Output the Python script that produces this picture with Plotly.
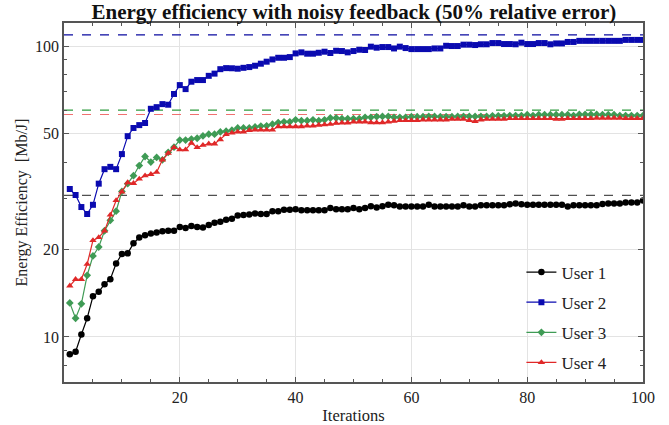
import plotly.graph_objects as go

iterations = list(range(1, 101))

user1 = [8.72, 8.89, 10.2, 11.6, 13.8, 14.3, 15.2, 15.8, 17.9, 19.3,
         19.4, 21.0, 22.0, 22.4, 22.7, 22.9, 23.1, 23.2, 23.2, 23.9,
         23.7, 24.1, 23.9, 23.8, 24.3, 24.7, 24.9, 25.3, 25.5, 26.2,
         26.3, 26.4, 26.6, 26.5, 26.5, 27.1, 27.1, 27.4, 27.4, 27.5,
         27.3, 27.3, 27.3, 27.3, 27.3, 27.8, 27.5, 27.5, 27.5, 27.8,
         27.5, 27.8, 28.2, 27.9, 28.2, 28.5, 28.4, 28.1, 28.1, 28.1,
         28.1, 28.1, 28.5, 28.1, 28.1, 28.1, 28.1, 28.1, 28.4, 28.1,
         28.1, 28.4, 28.4, 28.4, 28.4, 28.4, 28.6, 28.8, 28.6, 28.5,
         28.5, 28.5, 28.5, 28.5, 28.5, 28.5, 28.1, 28.4, 28.4, 28.4,
         28.4, 28.4, 28.7, 28.8, 28.8, 28.8, 29.0, 29.0, 29.0, 29.5]

user2 = [32.3, 30.8, 28.0, 26.5, 28.5, 33.7, 37.8, 38.5, 37.8, 42.6,
         49.1, 52.4, 53.6, 54.5, 61.0, 61.8, 63.3, 63.0, 68.6, 73.6,
         71.3, 75.6, 76.6, 76.6, 79.2, 80.6, 83.5, 84.2, 84.1, 83.8,
         84.4, 84.9, 85.8, 87.2, 88.6, 90.2, 91.4, 91.4, 91.9, 94.6,
         95.4, 94.4, 94.4, 95.1, 95.9, 94.9, 96.6, 96.4, 95.4, 96.4,
         97.4, 97.2, 99.8, 99.0, 99.5, 99.5, 98.4, 99.8, 98.7, 97.9,
         97.9, 97.9, 97.9, 98.4, 98.4, 100.5, 100.3, 100.3, 101.4, 101.4,
         101.1, 101.7, 101.7, 102.7, 102.7, 101.9, 101.9, 101.7, 103.0, 101.9,
         101.9, 102.7, 102.7, 101.7, 102.4, 102.4, 103.6, 103.6, 104.5, 104.5,
         104.5, 104.5, 104.5, 104.5, 104.5, 104.5, 105.3, 105.3, 105.3, 105.3]

user3 = [13.1, 11.6, 13.0, 16.3, 19.0, 20.4, 23.2, 25.2, 27.1, 31.7,
         33.7, 35.9, 38.9, 41.8, 40.0, 41.5, 40.7, 43.2, 45.0, 47.6,
         47.6, 48.0, 48.3, 49.2, 49.9, 49.9, 50.8, 51.1, 51.5, 52.4,
         52.4, 52.4, 52.8, 53.2, 53.3, 54.0, 54.7, 55.0, 55.0, 55.9,
         55.5, 55.5, 55.9, 55.5, 55.9, 56.7, 56.7, 56.4, 56.4, 56.4,
         56.4, 57.0, 57.0, 57.3, 57.4, 57.4, 57.0, 57.0, 57.0, 57.3,
         57.3, 57.3, 57.4, 57.4, 57.3, 57.3, 57.3, 57.4, 57.4, 57.4,
         57.4, 57.4, 57.4, 57.7, 57.7, 57.7, 57.8, 57.8, 57.8, 58.2,
         57.8, 58.2, 58.2, 58.2, 58.2, 58.2, 58.2, 57.8, 58.3, 58.3,
         58.3, 58.3, 58.2, 58.2, 58.2, 57.8, 57.8, 57.8, 57.8, 57.8]

user4 = [15.0, 15.8, 15.8, 17.8, 21.5, 22.0, 23.2, 26.3, 29.5, 31.6,
         34.0, 33.8, 35.0, 35.9, 36.3, 36.9, 40.7, 42.9, 44.9, 44.1,
         44.1, 46.5, 44.9, 45.7, 46.2, 46.2, 47.8, 49.8, 50.4, 50.8,
         50.8, 51.4, 51.6, 51.6, 51.6, 51.6, 53.0, 53.0, 53.0, 53.0,
         53.0, 53.3, 53.3, 53.6, 53.8, 54.0, 54.5, 54.6, 54.6, 55.0,
         55.0, 55.0, 54.7, 54.7, 54.7, 55.0, 55.3, 55.6, 55.6, 55.6,
         55.6, 55.9, 55.9, 55.9, 55.9, 55.9, 56.2, 56.2, 56.2, 55.6,
         55.2, 55.9, 56.2, 56.2, 56.2, 56.2, 56.5, 56.5, 56.5, 56.5,
         56.5, 56.5, 56.5, 56.5, 56.2, 56.2, 56.5, 56.5, 56.5, 56.5,
         56.5, 56.7, 56.7, 56.7, 56.7, 56.7, 56.5, 56.5, 56.5, 56.5]

# optimal (noise-free) levels, drawn as dashed reference lines
optimum_names = ["User 2", "User 3", "User 4", "User 1"]
optimum_values = [109.5, 60.4, 58.3, 30.7]

names = ["User 1", "User 2", "User 3", "User 4"]
series = [user1, user2, user3, user4]
colors = ["#000000", "#0a0ab0", "#3f9b55", "#e02828"]
dash_colors = {"User 1": "#505050", "User 2": "#0a0aa0",
               "User 3": "#2f9b3f", "User 4": "#f07070"}
symbols = ["circle", "square", "diamond", "triangle-up"]
sizes = [6.5, 6, 6, 6.5]

x_ticks = [20, 40, 60, 80, 100]
y_ticks = [10, 20, 50, 100]
y_minor = [8, 9, 30, 40, 60, 70, 80, 90]

SERIF = "Liberation Serif"

fig = go.Figure()

x_span = [iterations[0] - 1, iterations[-1]]
for name, val in zip(optimum_names, optimum_values):
    fig.add_trace(go.Scatter(
        x=x_span, y=[val, val], mode="lines", showlegend=False, hoverinfo="skip",
        line=dict(color=dash_colors[name], width=1.2, dash="dash"),
    ))

for i, (name, ys) in enumerate(zip(names, series)):
    fig.add_trace(go.Scatter(
        x=iterations, y=ys, name=name, mode="lines+markers",
        line=dict(color=colors[i], width=1.2),
        marker=dict(symbol=symbols[i], size=sizes[i], color=colors[i]),
        legendgroup=name,
    ))

fig.update_layout(
    width=669, height=425,
    margin=dict(l=64, r=26, t=23, b=43),
    paper_bgcolor="white", plot_bgcolor="white",
    font=dict(family=SERIF, size=16, color="#222222"),
    title=dict(text="<b>Energy efficiency with noisy feedback (50% relative error)</b>",
               x=0.529, xanchor="center", y=0.972, yanchor="middle",
               yref="container", font=dict(family=SERIF, size=21, color="#111111")),
    showlegend=True,
    legend=dict(x=0.79, y=0.355, xanchor="left", yanchor="top",
                bgcolor="rgba(255,255,255,0)", font=dict(family=SERIF, size=17),
                tracegroupgap=5),
)

fig.update_xaxes(
    range=[0, 100], tickvals=x_ticks, ticks="inside", ticklen=5, tickcolor="#555555",
    showline=True, linecolor="#555555", linewidth=1.5, mirror="allticks",
    showgrid=True, gridcolor="#e3e3e3", gridwidth=1, automargin=False,
    minor=dict(dtick=5, tick0=0, ticks="inside", ticklen=3, tickcolor="#555555", showgrid=False),
    title=dict(text="Iterations", font=dict(family=SERIF, size=16.5)),
    tickfont=dict(family=SERIF, size=16), zeroline=False,
)
fig.update_yaxes(
    type="log", range=[0.845, 2.0806], tickvals=y_ticks, ticktext=[str(v) for v in y_ticks],
    ticks="inside", ticklen=5, tickcolor="#555555",
    showline=True, linecolor="#555555", linewidth=1.5, mirror="allticks",
    showgrid=True, gridcolor="#e3e3e3", gridwidth=1, automargin=False,
    minor=dict(tickvals=y_minor, ticks="inside", ticklen=3, tickcolor="#555555", showgrid=False),
    title=dict(text="Energy Efficiency  [Mb/J]", font=dict(family=SERIF, size=16), standoff=3),
    tickfont=dict(family=SERIF, size=16), zeroline=False,
)

fig.write_html("out.html", config={"displayModeBar": False},
               post_script="document.body.style.margin='0';document.body.style.overflow='hidden';")
